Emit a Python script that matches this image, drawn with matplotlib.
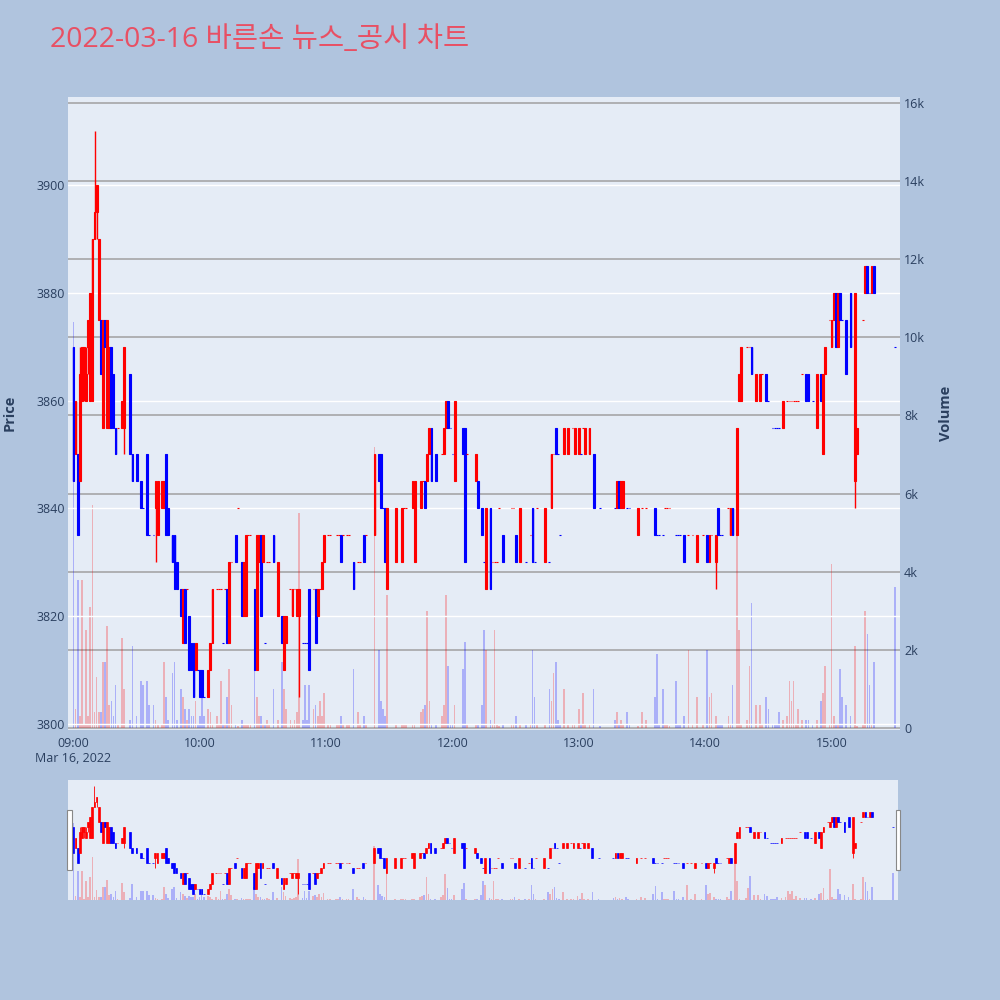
import matplotlib
matplotlib.use('Agg')
import matplotlib.pyplot as plt
from matplotlib.patches import Rectangle
import matplotlib.transforms as mtransforms

# ---------------- text / ticks ----------------
TITLE = '2022-03-16 바른손 뉴스_공시 차트'
DATE_LABEL = 'Mar 16, 2022'
x_tick_minutes = [0, 60, 120, 180, 240, 300, 360]
x_tick_labels = ['09:00', '10:00', '11:00', '12:00', '13:00', '14:00', '15:00']
price_ticks = [3800, 3820, 3840, 3860, 3880, 3900]
volume_ticks = [0, 2000, 4000, 6000, 8000, 10000, 12000, 14000, 16000]
volume_tick_labels = ['0', '2k', '4k', '6k', '8k', '10k', '12k', '14k', '16k']

# ---------------- data (minutes after 09:00) ----------------
minutes = [0, 1, 2, 3, 4, 5, 6, 7, 8, 9,
           10, 11, 12, 13, 14, 15, 16, 17, 18, 19,
           20, 21, 23, 24, 27, 28, 30, 32, 33, 35,
           36, 38, 39, 40, 42, 43, 44, 45, 47, 48,
           49, 51, 52, 53, 54, 55, 56, 57, 58, 59,
           60, 61, 62, 64, 65, 66, 68, 69, 70, 71,
           72, 73, 74, 75, 77, 78, 80, 81, 82, 83,
           84, 86, 87, 88, 89, 90, 91, 92, 93, 95,
           97, 99, 100, 101, 103, 104, 105, 106, 107, 109,
           110, 111, 112, 114, 115, 116, 117, 118, 119, 121,
           122, 125, 126, 127, 128, 130, 131, 133, 135, 136,
           138, 139, 143, 145, 146, 147, 148, 149, 153, 156,
           157, 158, 161, 162, 165, 166, 167, 168, 169, 170,
           172, 175, 176, 177, 178, 179, 180, 181, 185, 186,
           187, 191, 192, 194, 195, 196, 198, 199, 200, 201,
           202, 204, 208, 209, 210, 212, 215, 217, 218, 219,
           220, 224, 226, 227, 228, 229, 230, 231, 233, 235,
           237, 238, 240, 241, 242, 243, 245, 247, 250, 257,
           258, 259, 260, 261, 263, 264, 268, 270, 272, 276,
           277, 278, 280, 281, 282, 283, 286, 287, 288, 290,
           292, 294, 296, 299, 301, 302, 303, 305, 306, 307,
           308, 311, 312, 313, 315, 316, 317, 320, 321, 322,
           324, 326, 327, 329, 330, 332, 333, 334, 335, 337,
           339, 340, 341, 342, 343, 344, 346, 348, 349, 351,
           353, 355, 356, 357, 359, 360, 361, 362, 363, 364,
           365, 367, 369, 371, 372, 375, 376, 377, 378, 379,
           380, 390]

opens = [3870, 3850, 3850, 3845, 3860, 3865, 3860, 3870, 3860, 3860,
         3890, 3895, 3875, 3875, 3855, 3875, 3855, 3855, 3870, 3865,
         3855, 3855, 3855, 3855, 3865, 3850, 3850, 3845, 3840, 3850,
         3835, 3835, 3840, 3835, 3840, 3840, 3850, 3840, 3835, 3835,
         3830, 3825, 3815, 3825, 3825, 3820, 3815, 3815, 3810, 3810,
         3810, 3810, 3805, 3805, 3810, 3815, 3825, 3825, 3825, 3815,
         3825, 3825, 3815, 3830, 3835, 3840, 3830, 3820, 3820, 3835,
         3835, 3825, 3810, 3830, 3835, 3830, 3815, 3830, 3830, 3835,
         3820, 3820, 3810, 3815, 3825, 3820, 3825, 3820, 3820, 3815,
         3815, 3815, 3825, 3825, 3825, 3820, 3825, 3825, 3830, 3835,
         3835, 3835, 3835, 3835, 3835, 3835, 3835, 3830, 3830, 3830,
         3835, 3835, 3835, 3850, 3850, 3840, 3840, 3825, 3830, 3830,
         3840, 3840, 3840, 3830, 3840, 3845, 3845, 3845, 3850, 3855,
         3850, 3850, 3850, 3855, 3860, 3855, 3850, 3845, 3855, 3855,
         3850, 3845, 3845, 3840, 3830, 3825, 3840, 3830, 3830, 3830,
         3840, 3835, 3840, 3840, 3835, 3830, 3830, 3835, 3840, 3830,
         3840, 3830, 3830, 3840, 3850, 3855, 3850, 3835, 3850, 3850,
         3855, 3850, 3850, 3850, 3855, 3850, 3850, 3850, 3840, 3840,
         3840, 3845, 3840, 3840, 3840, 3840, 3835, 3840, 3840, 3840,
         3835, 3835, 3835, 3840, 3840, 3840, 3835, 3835, 3835, 3835,
         3835, 3835, 3830, 3835, 3835, 3830, 3835, 3830, 3840, 3835,
         3835, 3840, 3835, 3840, 3835, 3860, 3860, 3870, 3870, 3870,
         3860, 3860, 3865, 3865, 3860, 3855, 3855, 3855, 3855, 3855,
         3860, 3860, 3860, 3860, 3860, 3860, 3865, 3865, 3865, 3860,
         3855, 3865, 3850, 3865, 3875, 3870, 3875, 3880, 3870, 3880,
         3875, 3875, 3880, 3845, 3850, 3875, 3880, 3885, 3880, 3880,
         3885, 3870]

highs = [3870, 3860, 3850, 3870, 3870, 3870, 3870, 3875, 3880, 3890,
         3910, 3900, 3890, 3875, 3875, 3875, 3875, 3870, 3870, 3865,
         3855, 3855, 3860, 3870, 3865, 3850, 3850, 3845, 3840, 3850,
         3835, 3835, 3845, 3845, 3845, 3845, 3850, 3840, 3835, 3835,
         3830, 3825, 3825, 3825, 3825, 3820, 3815, 3815, 3815, 3810,
         3810, 3810, 3805, 3810, 3815, 3825, 3825, 3825, 3825, 3815,
         3825, 3825, 3830, 3830, 3835, 3840, 3830, 3830, 3835, 3835,
         3835, 3825, 3835, 3835, 3835, 3835, 3815, 3830, 3830, 3835,
         3830, 3820, 3820, 3820, 3825, 3825, 3825, 3825, 3825, 3815,
         3815, 3815, 3825, 3825, 3825, 3825, 3825, 3830, 3835, 3835,
         3835, 3835, 3835, 3835, 3835, 3835, 3835, 3830, 3830, 3830,
         3835, 3835, 3850, 3850, 3850, 3840, 3840, 3840, 3840, 3840,
         3840, 3840, 3845, 3845, 3845, 3845, 3845, 3850, 3855, 3855,
         3850, 3850, 3855, 3860, 3860, 3855, 3850, 3860, 3855, 3855,
         3850, 3850, 3845, 3840, 3830, 3840, 3840, 3830, 3830, 3830,
         3840, 3835, 3840, 3840, 3835, 3840, 3830, 3835, 3840, 3830,
         3840, 3840, 3830, 3850, 3850, 3855, 3850, 3835, 3855, 3855,
         3855, 3855, 3855, 3850, 3855, 3855, 3855, 3850, 3840, 3840,
         3845, 3845, 3845, 3845, 3840, 3840, 3840, 3840, 3840, 3840,
         3835, 3835, 3835, 3840, 3840, 3840, 3835, 3835, 3835, 3835,
         3835, 3835, 3835, 3835, 3835, 3835, 3835, 3835, 3840, 3835,
         3835, 3840, 3840, 3840, 3855, 3865, 3870, 3870, 3870, 3870,
         3865, 3865, 3865, 3865, 3860, 3855, 3855, 3855, 3855, 3860,
         3860, 3860, 3860, 3860, 3860, 3860, 3865, 3865, 3865, 3860,
         3865, 3865, 3865, 3870, 3875, 3875, 3880, 3880, 3880, 3880,
         3875, 3875, 3880, 3880, 3855, 3875, 3885, 3885, 3880, 3885,
         3885, 3870]

lows = [3845, 3850, 3835, 3845, 3860, 3860, 3860, 3865, 3860, 3860,
        3890, 3890, 3875, 3865, 3855, 3870, 3855, 3855, 3855, 3855,
        3850, 3855, 3855, 3850, 3850, 3845, 3845, 3840, 3840, 3835,
        3835, 3835, 3830, 3835, 3840, 3840, 3835, 3835, 3830, 3825,
        3825, 3820, 3815, 3815, 3825, 3810, 3810, 3805, 3810, 3810,
        3805, 3805, 3805, 3805, 3810, 3815, 3825, 3825, 3825, 3815,
        3825, 3815, 3815, 3830, 3830, 3840, 3820, 3820, 3820, 3835,
        3835, 3810, 3810, 3830, 3820, 3830, 3815, 3830, 3830, 3830,
        3820, 3815, 3810, 3815, 3825, 3820, 3825, 3820, 3805, 3815,
        3815, 3815, 3810, 3825, 3815, 3820, 3825, 3825, 3830, 3835,
        3835, 3835, 3835, 3830, 3835, 3835, 3835, 3825, 3830, 3830,
        3830, 3835, 3835, 3845, 3840, 3840, 3830, 3825, 3830, 3830,
        3840, 3840, 3840, 3830, 3840, 3845, 3840, 3845, 3850, 3845,
        3845, 3850, 3850, 3855, 3855, 3855, 3850, 3845, 3850, 3830,
        3850, 3845, 3840, 3835, 3830, 3825, 3825, 3830, 3830, 3830,
        3840, 3830, 3840, 3840, 3830, 3830, 3830, 3835, 3830, 3830,
        3840, 3830, 3830, 3840, 3850, 3850, 3850, 3835, 3850, 3850,
        3855, 3850, 3850, 3850, 3855, 3850, 3850, 3840, 3840, 3840,
        3840, 3840, 3840, 3840, 3840, 3840, 3835, 3840, 3840, 3835,
        3835, 3835, 3835, 3840, 3840, 3840, 3835, 3835, 3835, 3830,
        3835, 3835, 3830, 3835, 3830, 3830, 3835, 3825, 3835, 3835,
        3835, 3840, 3835, 3835, 3835, 3860, 3860, 3870, 3870, 3865,
        3860, 3860, 3865, 3860, 3860, 3855, 3855, 3855, 3855, 3855,
        3860, 3860, 3860, 3860, 3860, 3860, 3865, 3860, 3860, 3860,
        3855, 3860, 3850, 3865, 3875, 3870, 3875, 3870, 3870, 3875,
        3875, 3865, 3870, 3840, 3850, 3875, 3880, 3880, 3880, 3880,
        3880, 3870]

closes = [3845, 3860, 3835, 3865, 3870, 3870, 3865, 3875, 3880, 3890,
          3895, 3900, 3890, 3865, 3875, 3870, 3875, 3870, 3855, 3855,
          3850, 3855, 3860, 3870, 3850, 3845, 3845, 3840, 3840, 3835,
          3835, 3835, 3845, 3845, 3845, 3845, 3835, 3835, 3830, 3825,
          3825, 3820, 3825, 3815, 3825, 3810, 3810, 3805, 3815, 3810,
          3805, 3805, 3805, 3810, 3815, 3825, 3825, 3825, 3825, 3815,
          3825, 3815, 3830, 3830, 3830, 3840, 3820, 3830, 3835, 3835,
          3835, 3810, 3835, 3835, 3820, 3835, 3815, 3830, 3830, 3830,
          3830, 3815, 3820, 3820, 3825, 3825, 3825, 3825, 3825, 3815,
          3815, 3815, 3810, 3825, 3815, 3825, 3825, 3830, 3835, 3835,
          3835, 3835, 3835, 3830, 3835, 3835, 3835, 3825, 3830, 3830,
          3830, 3835, 3850, 3845, 3840, 3840, 3830, 3840, 3840, 3840,
          3840, 3840, 3845, 3845, 3845, 3845, 3840, 3850, 3855, 3845,
          3845, 3850, 3855, 3860, 3855, 3855, 3850, 3860, 3850, 3830,
          3850, 3850, 3840, 3835, 3830, 3840, 3825, 3830, 3830, 3830,
          3840, 3830, 3840, 3840, 3830, 3840, 3830, 3835, 3830, 3830,
          3840, 3840, 3830, 3850, 3850, 3850, 3850, 3835, 3855, 3855,
          3855, 3855, 3855, 3850, 3855, 3855, 3855, 3840, 3840, 3840,
          3845, 3840, 3845, 3845, 3840, 3840, 3840, 3840, 3840, 3835,
          3835, 3835, 3835, 3840, 3840, 3840, 3835, 3835, 3835, 3830,
          3835, 3835, 3835, 3835, 3830, 3835, 3835, 3835, 3835, 3835,
          3835, 3840, 3840, 3835, 3855, 3865, 3870, 3870, 3870, 3865,
          3865, 3865, 3865, 3860, 3860, 3855, 3855, 3855, 3855, 3860,
          3860, 3860, 3860, 3860, 3860, 3860, 3865, 3860, 3860, 3860,
          3865, 3860, 3865, 3870, 3875, 3875, 3880, 3870, 3880, 3875,
          3875, 3865, 3870, 3880, 3855, 3875, 3885, 3880, 3880, 3885,
          3880, 3870]

volumes = [10400, 500, 3800, 300, 3800, 100, 2500, 300, 3100, 5700,
           400, 1300, 400, 400, 1700, 1700, 2600, 600, 700, 300,
           1100, 100, 2300, 1000, 200, 2100, 300, 1200, 1100, 1200,
           600, 600, 200, 100, 100, 1700, 800, 200, 1400, 1700,
           200, 1000, 800, 500, 200, 500, 300, 300, 700, 100,
           300, 800, 300, 500, 400, 100, 300, 100, 1200, 100,
           100, 800, 1500, 600, 100, 50, 200, 100, 100, 100,
           100, 1700, 800, 300, 300, 100, 100, 200, 100, 1000,
           200, 1700, 1000, 500, 200, 100, 200, 400, 5500, 200,
           1100, 200, 1100, 500, 600, 300, 700, 300, 900, 100,
           100, 100, 100, 300, 100, 100, 100, 1500, 400, 100,
           300, 100, 7200, 2000, 700, 500, 300, 3400, 100, 100,
           100, 100, 100, 100, 400, 500, 600, 3000, 700, 100,
           100, 300, 600, 3400, 1600, 100, 100, 600, 1500, 2200,
           100, 100, 100, 600, 2500, 2000, 200, 100, 2500, 100,
           50, 100, 100, 100, 300, 100, 100, 100, 2000, 800,
           100, 100, 1000, 700, 1400, 1700, 200, 100, 1000, 100,
           100, 100, 500, 100, 900, 100, 100, 1000, 50, 200,
           400, 100, 200, 100, 400, 100, 50, 400, 200, 800,
           1900, 100, 1000, 100, 100, 50, 1200, 100, 100, 300,
           2000, 100, 800, 100, 2000, 800, 900, 300, 100, 100,
           100, 300, 100, 1100, 5300, 2500, 100, 200, 1600, 3200,
           600, 600, 100, 800, 500, 100, 100, 100, 400, 200,
           300, 1200, 700, 1200, 100, 500, 200, 200, 200, 100,
           200, 700, 900, 1600, 100, 4200, 300, 100, 100, 1500,
           800, 600, 300, 2100, 50, 100, 3000, 2400, 1100, 100,
           1700, 3600]

# ---------------- style ----------------
PAPER = '#b0c4de'
PLOT_BG = '#e5ecf6'
UP = '#ff0000'
DOWN = '#0000ff'
TEXT = '#2a3f5f'
TITLE_COLOR = '#e85064'
VOL_GRID = '#a0a0a0'

plt.rcParams['font.family'] = ['Open Sans', 'Noto Sans CJK KR', 'DejaVu Sans']

# candle colours (flat candles follow the previous close)
colors = []
prev_c = None
prev_col = DOWN
for o, c in zip(opens, closes):
    if c > o:
        col = UP
    elif c < o:
        col = DOWN
    else:
        if prev_c is None or c == prev_c:
            col = prev_col
        else:
            col = UP if c > prev_c else DOWN
    colors.append(col)
    prev_c = c
    prev_col = col

XLIM = (-2.6, 392.5)
PRICE_LIM = (3798.9, 3916.3)
VOL_LIM = (-50, 16150)


def draw_candles(axp, axv, wick_lw, body_lw, vol_w):
    bottoms = [min(o, c) for o, c in zip(opens, closes)]
    heights = [abs(c - o) for o, c in zip(opens, closes)]
    axv.bar(minutes, volumes, width=vol_w, color=colors, alpha=0.25,
            linewidth=0, zorder=2)
    axp.vlines(minutes, lows, highs, colors=colors, linewidth=wick_lw, zorder=3)
    axp.bar(minutes, heights, bottom=bottoms, width=0.85, color=colors,
            edgecolor=colors, linewidth=body_lw, zorder=4)


fig = plt.figure(figsize=(10, 10), dpi=100, facecolor=PAPER)

# ---------- main chart ----------
ax = fig.add_axes([0.068, 0.27, 0.832, 0.633])
axv = ax.twinx()
ax.set_zorder(axv.get_zorder() + 1)
ax.patch.set_visible(False)
axv.patch.set_visible(True)
axv.patch.set_facecolor(PLOT_BG)

draw_candles(ax, axv, 1.0, 0.8, 0.8)

ax.set_xlim(*XLIM)
ax.set_ylim(*PRICE_LIM)
axv.set_ylim(*VOL_LIM)

ax.set_yticks(price_ticks)
ax.set_yticklabels([str(p) for p in price_ticks])
axv.set_yticks(volume_ticks)
axv.set_yticklabels(volume_tick_labels)
ax.set_xticks(x_tick_minutes)
ax.set_xticklabels(x_tick_labels)

ax.grid(axis='y', color='white', linewidth=1.0, zorder=0)
ax.grid(axis='x', visible=False)
axv.grid(axis='y', color=VOL_GRID, linewidth=1.1)
axv.set_axisbelow(True)
ax.set_axisbelow(True)

for a in (ax, axv):
    for s in a.spines.values():
        s.set_visible(False)
ax.tick_params(axis='both', length=0, labelsize=9, labelcolor=TEXT)
ax.tick_params(axis='y', pad=2)
ax.tick_params(axis='x', pad=5)
axv.tick_params(axis='y', length=0, labelsize=9, labelcolor=TEXT, pad=3)

trans = mtransforms.blended_transform_factory(ax.transData, fig.transFigure)
ax.text(x_tick_minutes[0], 0.242, DATE_LABEL, transform=trans, ha='center',
        va='center', fontsize=9, color=TEXT)

fig.text(0.010, 0.587, 'Price', rotation=90, ha='center', va='center',
         fontsize=10.5, fontweight='bold', color=TEXT)
fig.text(0.946, 0.587, 'Volume', rotation=90, ha='center', va='center',
         fontsize=10.5, fontweight='bold', color=TEXT)

fig.text(0.05, 0.960, TITLE, ha='left', va='center', fontsize=20.5,
         color=TITLE_COLOR)

# ---------- range slider ----------
axs = fig.add_axes([0.068, 0.10, 0.830, 0.12])
axsv = axs.twinx()
axs.set_zorder(axsv.get_zorder() + 1)
axs.patch.set_visible(False)
axsv.patch.set_visible(True)
axsv.patch.set_facecolor(PLOT_BG)
draw_candles(axs, axsv, 0.6, 0.5, 0.8)
axs.set_xlim(*XLIM)
axs.set_ylim(*PRICE_LIM)
axsv.set_ylim(*VOL_LIM)
for a in (axs, axsv):
    a.set_xticks([])
    a.set_yticks([])
    for s in a.spines.values():
        s.set_visible(False)

for hx in (0.067, 0.8955):
    fig.patches.append(Rectangle((hx, 0.130), 0.0045, 0.060,
                                 transform=fig.transFigure, facecolor='white',
                                 edgecolor='#888888', linewidth=0.8, zorder=10))

fig.savefig('out.png', dpi=100, facecolor=PAPER)
